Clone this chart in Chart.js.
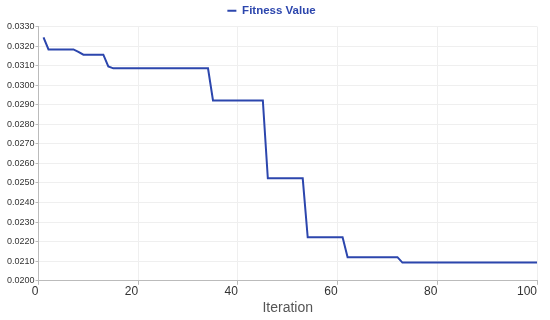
<!DOCTYPE html>
<html><head><meta charset="utf-8">
<script src="https://cdn.jsdelivr.net/npm/chart.js@4"></script>
<style>html,body{margin:0;padding:0;background:#fff}#c{display:block}</style>
</head><body>
<div style="width:550px;height:320px"><canvas id="c" width="550" height="320"></canvas></div>
<script>
const seriesLabel = "Fitness Value";
const iterations = [1, 2, 7, 8, 9, 13, 14, 15, 34, 35, 45, 46, 53, 54, 61, 62, 72, 73, 100];
const fitness = [0.03244, 0.03183, 0.03183, 0.0317, 0.03156, 0.03156, 0.03096, 0.03086, 0.03086, 0.02922, 0.02922, 0.02524, 0.02524, 0.02222, 0.02222, 0.02121, 0.02121, 0.02093, 0.02093];
const xTickStep = 20;
const yTickStep = 0.001;

const lineColor = '#2c46ad';
new Chart(document.getElementById('c'), {
  type: 'line',
  data: {
    datasets: [{
      label: seriesLabel,
      data: iterations.map((x, i) => ({x, y: fitness[i]})),
      borderColor: lineColor,
      backgroundColor: lineColor,
      borderWidth: 2,
      pointRadius: 0,
      tension: 0,
      fill: false
    }]
  },
  options: {
    responsive: false,
    animation: false,
    layout: {padding: {left: 6, right: 13, top: 0, bottom: 3}},
    plugins: {
      legend: {
        display: true,
        labels: {
          boxWidth: 9, boxHeight: 2,
          color: lineColor,
          padding: 5,
          font: {family: '"Liberation Sans", Arial, sans-serif', size: 11.5, weight: 'bold'},
          generateLabels: (chart) => Chart.defaults.plugins.legend.labels.generateLabels(chart).map(l => Object.assign(l, {lineWidth: 0}))
        }
      },
      tooltip: {enabled: false}
    },
    scales: {
      x: {
        type: 'linear', min: 0, max: 100,
        ticks: {stepSize: xTickStep, align: 'end', color: '#333', font: {family: '"Liberation Sans", Arial, sans-serif', size: 12}, maxRotation: 0, padding: 0},
        grid: {color: '#efefef', tickLength: 4, tickColor: '#bbb'},
        border: {color: '#bbbbbb'},
        title: {display: true, text: 'Iteration', color: '#555', font: {family: '"Liberation Sans", Arial, sans-serif', size: 14}, padding: {top: 1, bottom: 0}}
      },
      y: {
        min: 0.02, max: 0.033,
        ticks: {stepSize: yTickStep, color: '#333', font: {family: '"Liberation Sans", Arial, sans-serif', size: 9}, padding: 1,
          callback: v => v.toFixed(4)},
        grid: {color: '#efefef', tickLength: 3, tickColor: '#bbb'},
        border: {color: '#bbbbbb'}
      }
    }
  }
});
</script>
</body></html>
